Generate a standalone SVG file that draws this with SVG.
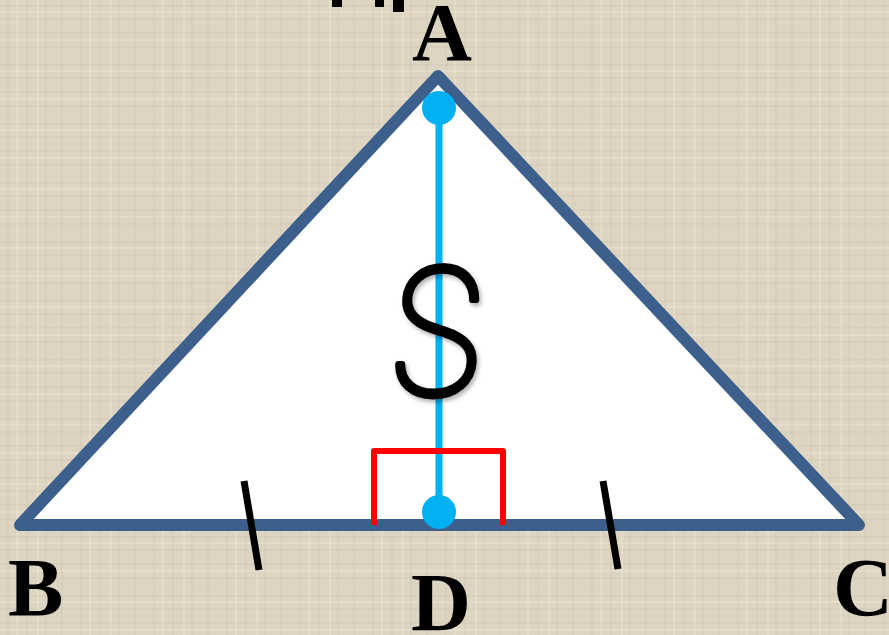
<svg xmlns="http://www.w3.org/2000/svg" width="889" height="635" viewBox="0 0 889 635">
<style>
.lbl{font-family:"Liberation Serif","Times New Roman",serif;font-weight:bold;font-size:83px;fill:#000}
.tick{stroke:#000;stroke-width:7;stroke-linecap:butt}
</style>
<defs>
<pattern id="tex" width="73" height="59" patternUnits="userSpaceOnUse">
<rect width="73" height="59" fill="#ddd4c2"/>
<path d="M0 6H73M0 19H73M0 33H73M0 47H73" stroke="#cabfaa" stroke-width="1" opacity="0.55"/>
<path d="M0 12H73M0 40H73" stroke="#e9e2d3" stroke-width="2" opacity="0.6"/>
<path d="M8 0V59M27 0V59M46 0V59M62 0V59" stroke="#c9bea9" stroke-width="1" opacity="0.45"/>
<path d="M17 0V59M38 0V59" stroke="#e8e1d1" stroke-width="2" opacity="0.55"/>
</pattern>
<filter id="sh" x="-20%" y="-20%" width="140%" height="140%">
<feDropShadow dx="2" dy="3" stdDeviation="2" flood-color="#000" flood-opacity="0.3"/>
</filter>
</defs>
<rect width="889" height="635" fill="url(#tex)"/>
<g id="topfrag" fill="#000">
<rect x="332" y="0" width="10" height="7"/>
<rect x="375" y="0" width="9" height="7"/>
<rect x="393" y="0" width="11" height="12"/>
</g>
<g id="triangle">
<polygon points="438,76 20,525 859,525" fill="#fff" stroke="#3c5f8b" stroke-width="12" stroke-linejoin="round"/>
</g>
<g id="connectors">
<line x1="439" y1="108" x2="439" y2="512" stroke="#00b0f0" stroke-width="7"/>
<polyline points="374,525 374,451 503,451 503,525" fill="none" stroke="#ff0000" stroke-width="6" stroke-linejoin="round"/>
<line class="tick" x1="244" y1="481" x2="259" y2="570"/>
<line class="tick" x1="603" y1="481" x2="618" y2="569"/>
</g>
<g id="A-dot"><circle cx="439" cy="108" r="17" fill="#00b0f0"/></g>
<g id="D-dot"><circle cx="439" cy="512" r="17" fill="#00b0f0"/></g>
<g id="S-label" filter="url(#sh)">
<text x="0" y="0" transform="translate(434,394) scale(0.92,0.97) skewX(-4)" text-anchor="middle" font-family="Inter, 'DejaVu Sans', sans-serif" font-weight="100" font-size="178" fill="#000" stroke="#000" stroke-width="7" stroke-linejoin="round">S</text>
</g>
<g id="labels">
<text class="lbl" x="442" y="60" text-anchor="middle">A</text>
<text class="lbl" x="8" y="615">B</text>
<text class="lbl" x="441" y="630" text-anchor="middle">D</text>
<text class="lbl" x="833" y="615">C</text>
</g>
</svg>
